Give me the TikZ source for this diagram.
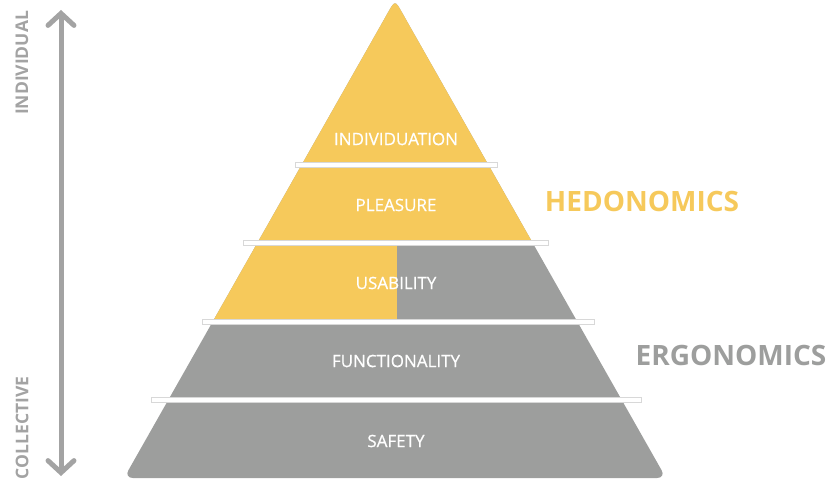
\documentclass[tikz,border=0pt]{standalone}
\usepackage{fontspec}
\setmainfont{Open Sans}
\newfontfamily\layerfont[FakeBold=0.6]{Open Sans}
\usetikzlibrary{arrows.meta}
\definecolor{hyellow}{HTML}{F6C95B}
\definecolor{egray}{HTML}{9D9E9D}
\definecolor{axgray}{HTML}{A3A3A3}
\definecolor{barline}{HTML}{D8D8D8}
\tikzset{
  layerlabel/.style={text=white, font=\layerfont\fontsize{17}{20}\selectfont, inner sep=0pt},
  sepbar/.style={fill=white, draw=barline, line width=0.6pt},
  axislabel/.style={text=axgray, font=\bfseries\fontsize{17.5}{20}\selectfont, rotate=90, inner sep=0pt},
  biglabel/.style={font=\bfseries\fontsize{28}{33}\selectfont, inner sep=0pt},
}
\begin{document}
\begin{tikzpicture}[x=1pt,y=-1pt]
\useasboundingbox (0,0) rectangle (829,481);
% pyramid
\coordinate (apL) at (383.2,21);
\coordinate (apR) at (406.8,21);
\coordinate (apex) at (395,0);
\coordinate (bR) at (666,478);
\coordinate (bL) at (124,478);
\def\pyr{(apL) .. controls (apex) .. (apR) -- (bR) -- (bL) -- cycle}
\fill[egray, rounded corners=9pt] \pyr;
\begin{scope}
  \clip[rounded corners=9pt] \pyr;
  \fill[hyellow] (0,-5) rectangle (829,243);
  \fill[hyellow] (0,243) rectangle (397,322);
\end{scope}
% separators
\draw[sepbar] (295,162.5) rectangle (497,167);
\draw[sepbar] (243,240.5) rectangle (548,245);
\draw[sepbar] (202,319.5) rectangle (594,324);
\draw[sepbar] (151,397.5) rectangle (641,402);
% labels
\node[layerlabel] (ind) at (396,139) {INDIVIDUATION};
\node[layerlabel] (ple) at (396,205) {PLEASURE};
\node[layerlabel] (usa) at (396,283) {USABILITY};
\node[layerlabel] (fun) at (396,361) {FUNCTIONALITY};
\node[layerlabel] (saf) at (396,441) {SAFETY};
\node[biglabel, text=hyellow] (hed) at (642,201) {HEDONOMICS};
\node[biglabel, text=egray] (erg) at (731,355) {ERGONOMICS};
% axis
\coordinate (top) at (61,10);
\coordinate (bot) at (61,476);
\draw[axgray, line width=5pt, {Straight Barb[length=12pt,width=26pt,line cap=round]}-{Straight Barb[length=12pt,width=26pt,line cap=round]}] (top) -- (bot);
\node[axislabel] (indv) at (22,63) {INDIVIDUAL};
\node[axislabel] (coll) at (22,428) {COLLECTIVE};
\end{tikzpicture}
\end{document}
